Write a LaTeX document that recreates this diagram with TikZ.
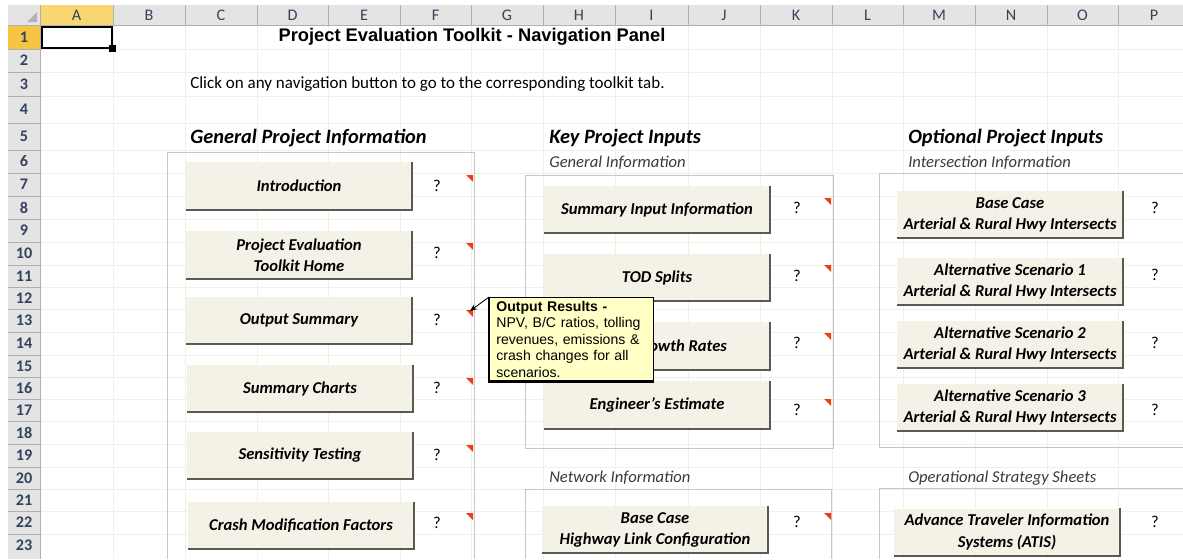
\documentclass[tikz,border=0pt]{standalone}
\usepackage{fontspec}
\setmainfont{Carlito}
\newfontfamily\arialfont{Liberation Sans}
\usetikzlibrary{arrows.meta}
\definecolor{btnfill}{HTML}{F4F1E6}
\definecolor{btnedge}{HTML}{5A5A55}
\definecolor{hdrgray}{HTML}{E4E4E4}
\definecolor{hdrline}{HTML}{B0B0B0}
\definecolor{hdrtext}{HTML}{34435C}
\definecolor{colsel}{HTML}{F9D770}
\definecolor{rowsel}{HTML}{F5C440}
\definecolor{panelline}{HTML}{C6C6C6}
\definecolor{gridc}{HTML}{F0F0E8}
\definecolor{tipyellow}{HTML}{FFFFC6}
\definecolor{flagred}{HTML}{F03C14}
\definecolor{subtext}{HTML}{3A3A3A}

\begin{document}
\begin{tikzpicture}[x=0.025cm,y=-0.025cm,
    gridline/.style={gridc,line width=0.4pt},
    hdrsep/.style={hdrline,line width=0.6pt},
    colhdr/.style={inner sep=0pt,text=hdrtext,font=\fontsize{11.5}{13}\selectfont},
    rowhdr/.style={inner sep=0pt,text=hdrtext,font=\fontsize{11.5}{13}\selectfont\bfseries},
    panelbox/.style={panelline,line width=0.6pt},
    heading/.style={anchor=west,inner sep=0pt,font=\fontsize{14.5}{17}\selectfont\bfseries\itshape},
    subhead/.style={anchor=west,inner sep=0pt,text=subtext,font=\fontsize{11.8}{14}\selectfont\itshape},
    navbtn/.style={fill=btnfill,minimum width=5.65cm,minimum height=1.175cm,inner sep=0pt,
      align=center,font=\fontsize{11.8}{15}\selectfont\bfseries\itshape},
    btnshade/.style={btnedge,line width=1.3pt},
    helpmark/.style={inner sep=0pt,font=\fontsize{11.8}{14}\selectfont},
    tipbox/.style={fill=tipyellow,draw=black,line width=0.9pt,align=left,text width=3.75cm,
      inner xsep=0.17cm,inner ysep=0.09cm,font=\arialfont\fontsize{10}{11.7}\selectfont}]
  \useasboundingbox (0,0) rectangle (1183,559);
  \fill[white] (0,0) rectangle (1183,559);

  % sheet grid
  \foreach \x in {113,185,257,328,400,471,543,615,688,760,832,903,975,1047,1118}
    \draw[gridline] (\x,25) -- (\x,559);
  \foreach \y in {49,72,96,123,150,173,196,219,242,265,287,309,332,355,377,399,421,444,467,489,511,534}
    \draw[gridline] (40,\y) -- (1183,\y);

  % headers
  \fill[hdrgray] (8,5) rectangle (1183,25);
  \fill[hdrgray] (8,25) rectangle (40,559);
  \fill[colsel] (40,5) rectangle (113,25);
  \fill[rowsel] (8,25) rectangle (40,49);
  \fill[black!30] (37,12) -- (37,22) -- (27,22) -- cycle;
  \foreach \c/\xa/\xb in {A/40/113,B/113/185,C/185/257,D/257/328,E/328/400,F/400/471,G/471/543,H/543/615,
      I/615/688,J/688/760,K/760/832,L/832/903,M/903/975,N/975/1047,O/1047/1118,P/1118/1190}{
    \draw[hdrsep] (\xa,5) -- (\xa,25);
    \node[colhdr] (col\c) at ({(\xa+\xb)/2},15) {\c};
  }
  \foreach \r/\ya/\yb in {1/25/49,2/49/72,3/72/96,4/96/123,5/123/150,6/150/173,7/173/196,8/196/219,
      9/219/242,10/242/265,11/265/287,12/287/309,13/309/332,14/332/355,15/355/377,16/377/399,
      17/399/421,18/421/444,19/444/467,20/467/489,21/489/511,22/511/534,23/534/557}{
    \draw[hdrsep] (8,\ya) -- (40,\ya);
    \node[rowhdr] (row\r) at (24,{(\ya+\yb)/2}) {\r};
  }
  \draw[hdrsep] (8,25) -- (1183,25);
  \draw[hdrsep] (40,5) -- (40,559);

  % active cell A1
  \draw[line width=2pt] (42,27) rectangle (112,48);
  \fill (109,45) rectangle (116,52);

  % titles
  \node[inner sep=0pt,font=\arialfont\fontsize{13}{15}\selectfont\bfseries] (title) at (472,37)
    {Project Evaluation Toolkit - Navigation Panel};
  \node[anchor=west,inner sep=0pt,font=\fontsize{12.1}{14}\selectfont] (hint) at (190,84)
    {Click on any navigation button to go to the corresponding toolkit tab.};
  \node[heading] (genhead) at (190,138) {General Project Information};
  \node[heading] (keyhead) at (549,138) {Key Project Inputs};
  \node[heading] (opthead) at (908,138) {Optional Project Inputs};
  \node[subhead] (geninfo) at (549,163) {General Information};
  \node[subhead] (isecinfo) at (908,163) {Intersection Information};
  \node[subhead] (netinfo) at (549,478) {Network Information};
  \node[subhead] (opsheets) at (908,478) {Operational Strategy Sheets};

  % panels
  \draw[panelbox] (167,559) -- (167,152) -- (474,152) -- (474,559);
  \draw[panelbox] (525,175) rectangle (833,448);
  \draw[panelbox] (525,559) -- (525,489) -- (831,489) -- (831,559);
  \draw[panelbox] (1183,447) -- (879,447) -- (879,173) -- (1183,173);
  \draw[panelbox] (879,559) -- (879,488) -- (1183,488);

  % buttons
  \node[navbtn] (intro) at (299,186) {Introduction};
  \node[navbtn] (tkhome) at (299,255) {Project Evaluation\\Toolkit Home};
  \node[navbtn] (outsum) at (299,320.5) {Output Summary};
  \node[navbtn] (charts) at (300,388.5) {Summary Charts};
  \node[navbtn] (senstest) at (300,455.5) {Sensitivity Testing};
  \node[navbtn] (cmf) at (301,525.5) {Crash Modification Factors};

  \node[navbtn] (suminput) at (657,209.5) {Summary Input Information};
  \node[navbtn] (todsplit) at (657,277.5) {TOD Splits};
  \node[navbtn,text width=3.5cm,align=flush right] (growth) at (657,346) {Growth Rates};
  \node[navbtn] (engest) at (657,405) {Engineer's Estimate};
  \node[navbtn] (netbase) at (655,529.5) {Base Case\\Highway Link Configuration};

  \node[navbtn] (isecbase) at (1010,214.5) {Base Case\\Arterial \& Rural Hwy Intersects};
  \node[navbtn] (isecalt1) at (1010,281.5) {Alternative Scenario 1\\Arterial \& Rural Hwy Intersects};
  \node[navbtn] (isecalt2) at (1010,344.5) {Alternative Scenario 2\\Arterial \& Rural Hwy Intersects};
  \node[navbtn] (isecalt3) at (1010,407.5) {Alternative Scenario 3\\Arterial \& Rural Hwy Intersects};
  \node[navbtn] (atis) at (1007,532) {Advance Traveler Information\\Systems (ATIS)};

  \foreach \b in {intro,tkhome,outsum,charts,senstest,cmf,suminput,todsplit,growth,engest,netbase,
      isecbase,isecalt1,isecalt2,isecalt3,atis}
    \draw[btnshade] (\b.north east) -- (\b.south east) -- (\b.south west);

  % help marks and comment flags
  \foreach \n/\x/\y in {intro/437/186,tkhome/437/253,outsum/437/320,charts/437/388,senstest/437/455,
      cmf/437/523,suminput/797/208,todsplit/797/276,growth/797/343,engest/797/410,netbase/797/522,
      isecbase/1155/208,isecalt1/1155/275,isecalt2/1155/343,isecalt3/1155/410,atis/1155/522}
    \node[helpmark] (q\n) at (\x,\y) {?};
  \foreach \x/\y in {466/175,466/243,466/310,466/378,466/445,466/513,824/198,824/265,824/333,824/399,824/513}
    \fill[flagred] (\x,\y) -- ++(7,0) -- ++(0,7) -- cycle;
  \coordinate (outflag) at (470,311);

  % comment box
  \node[tipbox,anchor=north west] (outtip) at (489,297)
    {{\bfseries Output Results -}\\NPV, B/C ratios, tolling\\revenues, emissions \&\\crash changes for all\\scenarios.};
  \draw[line width=1.8pt] (outtip.north west) -- (outtip.south west) -- (outtip.south east);
  \draw[-{Stealth[length=5pt,width=4pt]},line width=0.6pt] (outtip.north west) -- (outflag);
\end{tikzpicture}
\end{document}
